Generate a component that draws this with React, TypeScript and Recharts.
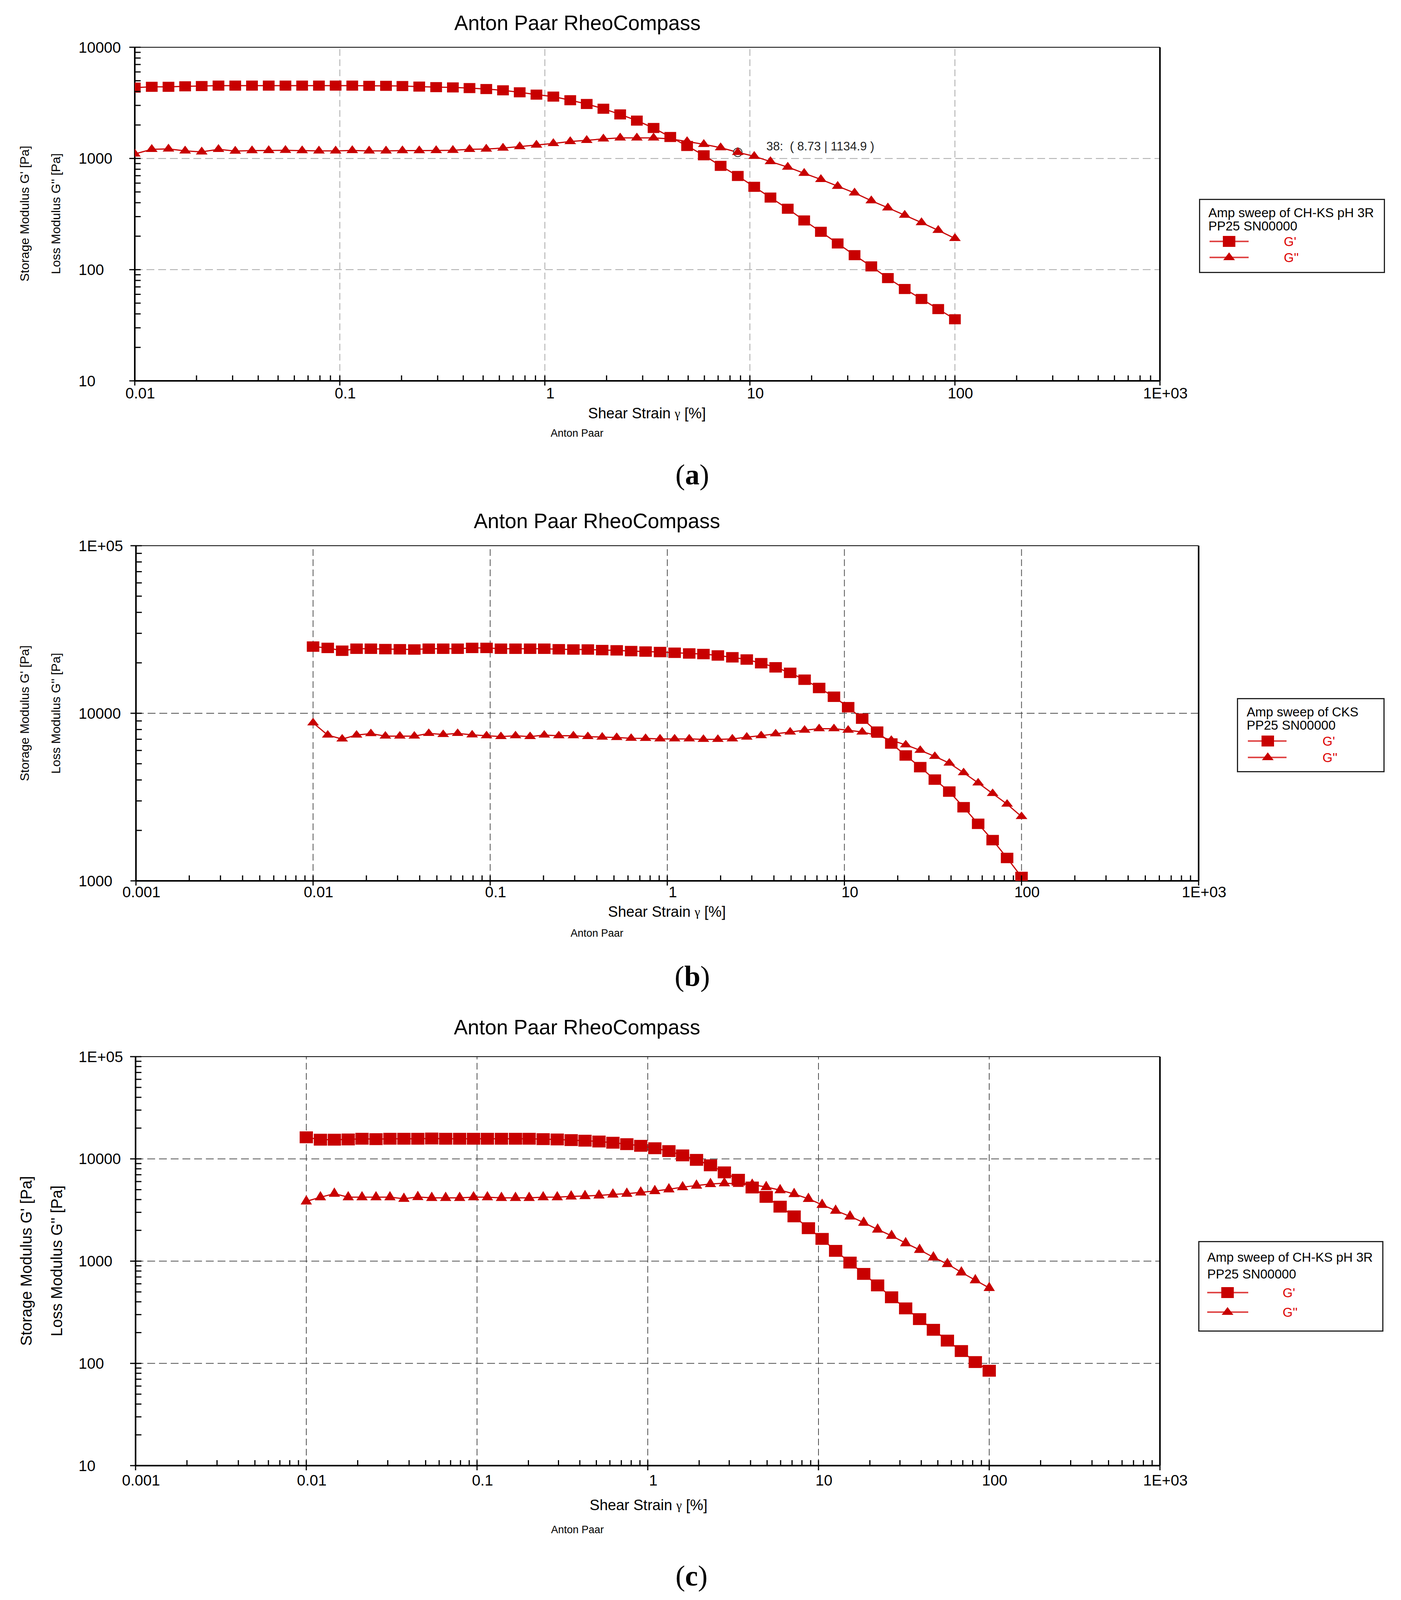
import React from 'react';
import { LineChart, Line, XAxis, YAxis, ReferenceLine, ReferenceDot, Legend } from 'recharts';

// Shear strain (%) of the 50 measuring points, same ramp in all three runs
const strain = [
  0.01, 0.0121, 0.0146, 0.0176, 0.0212, 0.0256, 0.0309, 0.0373, 0.045, 0.0543,
  0.0655, 0.0791, 0.0954, 0.115, 0.139, 0.168, 0.202, 0.244, 0.295, 0.356,
  0.429, 0.518, 0.625, 0.754, 0.91, 1.1, 1.33, 1.6, 1.93, 2.33,
  2.81, 3.39, 4.09, 4.94, 5.96, 7.2, 8.73, 10.5, 12.6, 15.3,
  18.4, 22.2, 26.8, 32.4, 39.1, 47.1, 56.9, 68.7, 82.9, 100,
];

// (a) CH-KS pH 3R
const storageA = [
  4335, 4410, 4410, 4455, 4480, 4520, 4520, 4520, 4520, 4520,
  4520, 4520, 4520, 4520, 4500, 4500, 4480, 4430, 4380, 4355,
  4295, 4210, 4100, 3935, 3750, 3600, 3340, 3090, 2800, 2490,
  2190, 1880, 1560, 1295, 1068, 858, 696, 556, 445, 353,
  277, 219, 172, 135, 107, 84, 67, 54.5, 44.2, 35.8,
];
const lossA = [
  1099, 1208, 1219, 1170, 1146, 1208, 1166, 1176, 1180, 1185,
  1176, 1170, 1170, 1180, 1170, 1170, 1176, 1176, 1180, 1185,
  1208, 1215, 1240, 1280, 1320, 1365, 1420, 1455, 1500, 1530,
  1530, 1530, 1500, 1420, 1340, 1250, 1135, 1046, 938, 836,
  736, 648, 563, 490, 417, 360, 309, 265, 226, 191,
];

// (b) CKS
const storageB = [
  25000, 24550, 23620, 24280, 24280, 24150, 24100, 24020, 24280, 24280,
  24280, 24550, 24550, 24280, 24280, 24280, 24280, 24100, 24020, 24020,
  23830, 23740, 23500, 23350, 23200, 22970, 22750, 22570, 22130, 21580,
  20930, 19900, 18800, 17430, 15860, 14160, 12550, 10870, 9290, 7770,
  6600, 5600, 4770, 4020, 3410, 2750, 2190, 1750, 1370, 1055,
];
const lossB = [
  8770, 7410, 7020, 7410, 7560, 7310, 7310, 7310, 7580, 7470,
  7580, 7430, 7340, 7260, 7340, 7260, 7410, 7340, 7340, 7260,
  7210, 7170, 7090, 7080, 7030, 7030, 7030, 6990, 6990, 7030,
  7210, 7350, 7540, 7730, 7930, 8090, 8090, 7930, 7730, 7390,
  6900, 6480, 6010, 5530, 5040, 4420, 3840, 3320, 2870, 2420,
];

// (c) CH-KS pH 3R
const storageC = [
  16260, 15410, 15410, 15490, 15740, 15600, 15740, 15740, 15740, 15820,
  15740, 15740, 15740, 15740, 15740, 15740, 15740, 15600, 15490, 15270,
  15070, 14790, 14390, 13930, 13420, 12710, 11920, 10820, 9780, 8650,
  7380, 6250, 5250, 4250, 3410, 2740, 2100, 1650, 1260, 968,
  750, 579, 443, 345, 271, 213, 167, 132, 103, 84.7,
];
const lossC = [
  3840, 4220, 4570, 4220, 4220, 4220, 4220, 4075, 4240, 4160,
  4160, 4160, 4220, 4220, 4160, 4160, 4160, 4220, 4220, 4300,
  4335, 4390, 4490, 4570, 4700, 4850, 5050, 5290, 5490, 5680,
  5780, 5700, 5600, 5310, 4950, 4540, 4070, 3560, 3120, 2740,
  2380, 2040, 1770, 1500, 1290, 1090, 938, 777, 651, 547,
];

// axis decades and their printed labels
const xMajorA = [0.01, 0.1, 1, 10, 100, 1000];
const xLabelsA = ['0.01', '0.1', '1', '10', '100', '1E+03'];
const xMajorBC = [0.001, 0.01, 0.1, 1, 10, 100, 1000];
const xLabelsBC = ['0.001', '0.01', '0.1', '1', '10', '100', '1E+03'];
const yMajorA = [10, 100, 1000, 10000];
const yLabelsA = ['10', '100', '1000', '10000'];
const yMajorB = [1000, 10000, 100000];
const yLabelsB = ['1000', '10000', '1E+05'];
const yMajorC = [10, 100, 1000, 10000, 100000];
const yLabelsC = ['10', '100', '1000', '10000', '1E+05'];

const W = 3586;
// the capture stops a little above 4450px, so the whole figure is squeezed
// vertically to land inside it
const SY = 0.92;
const Y = (v: number) => Math.round(v * SY);
const SANS = '"Liberation Sans", Arial, sans-serif';
const SERIF = '"Liberation Serif", "Times New Roman", serif';
const RED = '#c80000';

// 2..9 inside every decade
function minors(majors: number[]) {
  const out: number[] = [];
  for (let i = 0; i < majors.length - 1; i++) {
    for (let k = 2; k <= 9; k++) out.push(majors[i] * k);
  }
  return out;
}

function XTick(props: any) {
  const { x, y, payload, majors, labels, off } = props;
  const i = majors.indexOf(payload.value);
  const major = i >= 0;
  return (
    <g>
      <line x1={x} x2={x} y1={y - 14} y2={major ? y + 12 : y} stroke="#000" strokeWidth={3} />
      {major && (
        <text x={x + 14} y={y + off} textAnchor="middle" dominantBaseline="central" fontSize={39} fontFamily={SANS} fill="#000">
          {labels[i]}
        </text>
      )}
    </g>
  );
}

function YTick(props: any) {
  const { x, y, payload, majors, labels } = props;
  const i = majors.indexOf(payload.value);
  const major = i >= 0;
  return (
    <g>
      <line x1={major ? x - 14 : x} x2={x + 15} y1={y} y2={y} stroke="#000" strokeWidth={3} />
      {major && (
        <text x={201} y={y} textAnchor="start" dominantBaseline="central" fontSize={39} fontFamily={SANS} fill="#000">
          {labels[i]}
        </text>
      )}
    </g>
  );
}

function PanelText({ cfg }: { cfg: any }) {
  const t = Y(cfg.top);
  const yc = Y(cfg.yTitle.y) - t;
  return (
    <g fontFamily={SANS} fill="#000" style={{ whiteSpace: 'pre' }}>
      <text x={cfg.title.x} y={Y(cfg.title.y) - t} textAnchor="middle" dominantBaseline="central" fontSize={53}>
        Anton Paar RheoCompass
      </text>
      <text x={cfg.yTitle.x1} y={yc} transform={`rotate(-90 ${cfg.yTitle.x1} ${yc})`} textAnchor="middle" dominantBaseline="central" fontSize={cfg.yTitle.size}>
        {"Storage Modulus  G'  [Pa]"}
      </text>
      <text x={cfg.yTitle.x2} y={yc} transform={`rotate(-90 ${cfg.yTitle.x2} ${yc})`} textAnchor="middle" dominantBaseline="central" fontSize={cfg.yTitle.size}>
        {"Loss Modulus  G''  [Pa]"}
      </text>
      <text x={cfg.xTitle.x} y={Y(cfg.xTitle.y) - t} textAnchor="middle" dominantBaseline="central" fontSize={38}>
        {'Shear Strain  '}
        <tspan fontFamily={SERIF} fontSize={32}>γ</tspan>
        {'  [%]'}
      </text>
      <text x={cfg.small.x} y={Y(cfg.small.y) - t} textAnchor="middle" dominantBaseline="central" fontSize={27}>
        Anton Paar
      </text>
      <text x={cfg.caption.x} y={Y(cfg.caption.y) - t} textAnchor="middle" dominantBaseline="central" fontSize={74} fontFamily={SERIF}>
        (<tspan fontWeight="bold">{cfg.caption.letter}</tspan>)
      </text>
    </g>
  );
}

function LegendBox({ lg }: { lg: any }) {
  const [x0, x1] = lg.lineX;
  const m = lg.mark;
  const h = Y(lg.h);
  const r = lg.rows.map(Y);
  return (
    <svg width={lg.w} height={h} style={{ display: 'block' }}>
      <rect x={1.5} y={1.5} width={lg.w - 3} height={h - 3} fill="#fff" stroke="#222" strokeWidth={3} />
      <text x={lg.pad} y={r[0]} dominantBaseline="central" fontSize={lg.size} fontFamily={SANS} fill="#000">
        {lg.name}
      </text>
      <text x={lg.pad} y={r[1]} dominantBaseline="central" fontSize={lg.size} fontFamily={SANS} fill="#000">
        PP25 SN00000
      </text>
      <line x1={x0} x2={x1} y1={r[2]} y2={r[2]} stroke="#e04848" strokeWidth={4} />
      <rect x={m - 16} y={r[2] - 14} width={32} height={28} fill={RED} />
      <text x={lg.labX} y={r[2]} dominantBaseline="central" fontSize={lg.size} fontFamily={SANS} fill="#dd0000">
        G'
      </text>
      <line x1={x0} x2={x1} y1={r[3]} y2={r[3]} stroke="#e04848" strokeWidth={4} />
      <polygon points={`${m},${r[3] - 13} ${m - 15},${r[3] + 7} ${m + 15},${r[3] + 7}`} fill={RED} />
      <text x={lg.labX} y={r[3]} dominantBaseline="central" fontSize={lg.size} fontFamily={SANS} fill="#dd0000">
        G''
      </text>
    </svg>
  );
}

function Panel({ cfg }: { cfg: any }) {
  const p = cfg.plot;
  const top = Y(cfg.top);
  const height = Y(cfg.top + cfg.height) - top;
  const plotTop = Y(p.top);
  const plotBottom = Y(p.bottom);
  const data = strain.map((x, i) => ({ x, gp: cfg.gp[i], gpp: cfg.gpp[i] }));
  const xTicks = [...cfg.xMajor, ...minors(cfg.xMajor)];
  const yTicks = [...cfg.yMajor, ...minors(cfg.yMajor)];
  const xMin = cfg.xMajor[0];
  const xMax = cfg.xMajor[cfg.xMajor.length - 1];
  const yMin = cfg.yMajor[0];
  const yMax = cfg.yMajor[cfg.yMajor.length - 1];
  const sq = { w: cfg.sq.w, h: cfg.sq.h * SY };
  const tri = { w: cfg.tri.w, h: cfg.tri.h * SY };
  return (
    <div style={{ position: 'absolute', left: 0, top }}>
      <LineChart
        width={W}
        height={height}
        data={data}
        margin={{ top: plotTop - top, right: W - p.right, left: 0, bottom: 0 }}
      >
        <XAxis
          dataKey="x"
          type="number"
          scale="log"
          domain={[xMin, xMax]}
          allowDataOverflow
          ticks={xTicks}
          interval={0}
          tickSize={0}
          tickMargin={0}
          tickLine={false}
          axisLine={{ stroke: '#000', strokeWidth: 4 }}
          height={top + height - plotBottom}
          tick={(t: any) => <XTick {...t} majors={cfg.xMajor} labels={cfg.xLabels} off={Math.round(cfg.xOff * SY)} />}
        />
        <YAxis
          type="number"
          scale="log"
          domain={[yMin, yMax]}
          allowDataOverflow
          ticks={yTicks}
          interval={0}
          tickSize={0}
          tickMargin={0}
          tickLine={false}
          axisLine={{ stroke: '#000', strokeWidth: 4 }}
          width={p.left}
          tick={(t: any) => <YTick {...t} majors={cfg.yMajor} labels={cfg.yLabels} />}
          label={<PanelText cfg={cfg} />}
        />
        {cfg.xMajor.slice(1, -1).map((v: number) => (
          <ReferenceLine key={'gx' + v} x={v} stroke={cfg.grid} strokeWidth={2} strokeDasharray="17 9" />
        ))}
        {cfg.yMajor.slice(1, -1).map((v: number) => (
          <ReferenceLine key={'gy' + v} y={v} stroke={cfg.grid} strokeWidth={2} strokeDasharray="20 10" />
        ))}
        <ReferenceLine y={yMax} stroke="#000" strokeWidth={2} />
        <ReferenceLine x={xMax} stroke="#000" strokeWidth={4} />
        <Line
          dataKey="gp"
          type="linear"
          stroke={RED}
          strokeWidth={3}
          isAnimationActive={false}
          activeDot={false}
          dot={(d: any) => (
            <rect key={'s' + d.index} x={d.cx - sq.w / 2} y={d.cy - sq.h / 2} width={sq.w} height={sq.h} fill={RED} />
          )}
        />
        <Line
          dataKey="gpp"
          type="linear"
          stroke={RED}
          strokeWidth={3}
          isAnimationActive={false}
          activeDot={false}
          dot={(d: any) => (
            <polygon
              key={'t' + d.index}
              points={`${d.cx},${d.cy - (tri.h * 2) / 3} ${d.cx - tri.w / 2},${d.cy + tri.h / 3} ${d.cx + tri.w / 2},${d.cy + tri.h / 3}`}
              fill={RED}
            />
          )}
        />
        {cfg.note && (
          <ReferenceDot
            x={cfg.note.x}
            y={cfg.note.y}
            r={11}
            shape={(s: any) => (
              <g>
                <circle cx={s.cx} cy={s.cy} r={11} fill="#fff" stroke="#333" strokeWidth={2} />
                <circle cx={s.cx} cy={s.cy} r={3} fill="#333" />
                <text x={s.cx + 73} y={s.cy - 16} dominantBaseline="central" fontSize={31} fontFamily={SANS} fill="#222" style={{ whiteSpace: 'pre' }}>
                  {cfg.note.text}
                </text>
              </g>
            )}
          />
        )}
        <Legend
          layout="vertical"
          align="center"
          verticalAlign="middle"
          wrapperStyle={{ left: cfg.legend.x, top: Y(cfg.legend.y) - top, width: cfg.legend.w, height: Y(cfg.legend.h) }}
          content={() => <LegendBox lg={cfg.legend} />}
        />
      </LineChart>
    </div>
  );
}

const panelA = {
  top: 0,
  height: 1400,
  plot: { left: 345, right: 2969, top: 131, bottom: 1060 },
  xMajor: xMajorA,
  xLabels: xLabelsA,
  yMajor: yMajorA,
  yLabels: yLabelsA,
  gp: storageA,
  gpp: lossA,
  grid: '#a8a8a8',
  xOff: 34,
  title: { x: 1478, y: 63 },
  yTitle: { x1: 63, x2: 143, y: 595, size: 32 },
  xTitle: { x: 1656, y: 1150 },
  small: { x: 1477, y: 1205 },
  caption: { x: 1772, y: 1321, letter: 'a' },
  legend: { x: 3069, y: 553, w: 476, h: 207, name: 'Amp sweep of CH-KS pH 3R', rows: [38, 75, 119, 163], pad: 24, lineX: [27, 127], mark: 77, labX: 217, size: 33 },
  sq: { w: 30, h: 28 },
  tri: { w: 30, h: 22 },
  note: { x: 8.73, y: 1134.9, text: '38:  ( 8.73 | 1134.9 )' },
};

const panelB = {
  top: 1400,
  height: 1370,
  plot: { left: 348, right: 3068, top: 1519, bottom: 2451 },
  xMajor: xMajorBC,
  xLabels: xLabelsBC,
  yMajor: yMajorB,
  yLabels: yLabelsB,
  gp: storageB,
  gpp: lossB,
  grid: '#505050',
  xOff: 30,
  title: { x: 1528, y: 1449 },
  yTitle: { x1: 63, x2: 143, y: 1985, size: 32 },
  xTitle: { x: 1707, y: 2537 },
  small: { x: 1528, y: 2597 },
  caption: { x: 1772, y: 2716, letter: 'b' },
  legend: { x: 3166, y: 1942, w: 378, h: 207, name: 'Amp sweep of CKS', rows: [38, 75, 120, 165], pad: 25, lineX: [28, 127], mark: 79, labX: 219, size: 33 },
  sq: { w: 32, h: 29 },
  tri: { w: 30, h: 21 },
};

const panelC = {
  top: 2770,
  height: 1680,
  plot: { left: 347, right: 2969, top: 2940, bottom: 4078 },
  xMajor: xMajorBC,
  xLabels: xLabelsBC,
  yMajor: yMajorC,
  yLabels: yLabelsC,
  gp: storageC,
  gpp: lossC,
  grid: '#505050',
  xOff: 40,
  title: { x: 1477, y: 2858 },
  yTitle: { x1: 67, x2: 145, y: 3509, size: 40 },
  xTitle: { x: 1660, y: 4188 },
  small: { x: 1478, y: 4257 },
  caption: { x: 1770, y: 4385, letter: 'c' },
  legend: { x: 3067, y: 3453, w: 474, h: 252, name: 'Amp sweep of CH-KS pH 3R', rows: [45, 91, 144, 198], pad: 23, lineX: [23, 128], mark: 75, labX: 216, size: 33 },
  sq: { w: 34, h: 33 },
  tri: { w: 29, h: 26 },
};

export default function App() {
  return (
    <div style={{ position: 'absolute', left: 0, top: 0, width: W, height: 4450, background: '#fff', overflow: 'hidden' }}>
      <Panel cfg={panelA} />
      <Panel cfg={panelB} />
      <Panel cfg={panelC} />
    </div>
  );
}
